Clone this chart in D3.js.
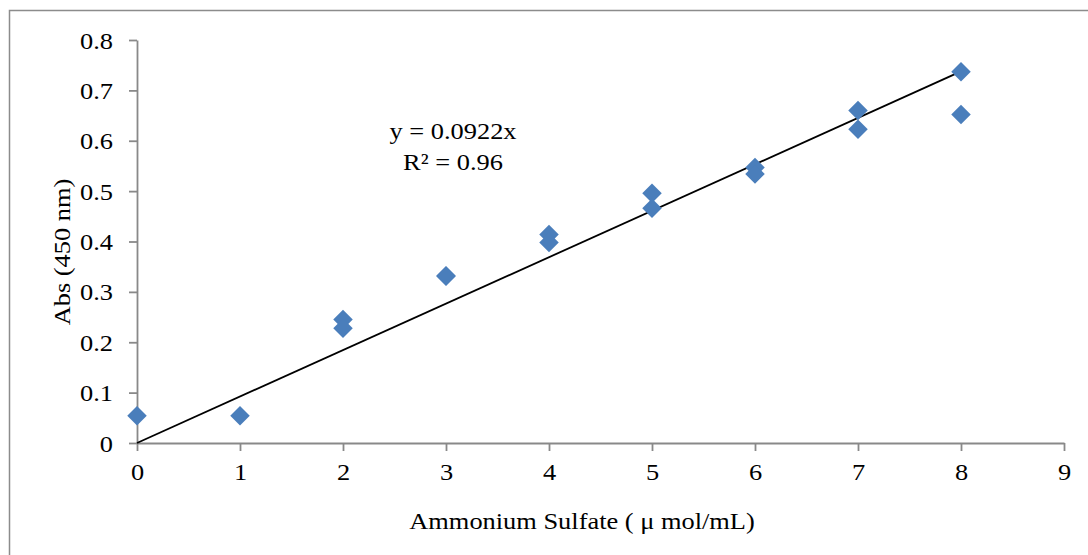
<!DOCTYPE html>
<html>
<head>
<meta charset="utf-8">
<script src="https://cdn.jsdelivr.net/npm/d3@7"></script>
<style>
  body { margin: 0; background: #fff; }
  svg { display: block; }
</style>
</head>
<body>
<div class="absChart"></div>
<script>
// concentration (x) and absorbance readings (y), two replicates per level
const concentrations = [0, 1, 2, 2, 3, 3, 4, 4, 5, 5, 6, 6, 7, 7, 8, 8];
const absorbance = [0.054, 0.054, 0.245, 0.228, 0.332, 0.331, 0.414, 0.398, 0.496, 0.466, 0.547, 0.534, 0.66, 0.623, 0.737, 0.652];
const xTicks = [0, 1, 2, 3, 4, 5, 6, 7, 8, 9];
const yTicks = [0, 0.1, 0.2, 0.3, 0.4, 0.5, 0.6, 0.7, 0.8];
const slope = 0.0922;
const trendRange = [0, 8];
const equationLines = ['y = 0.0922x', 'R\u00b2 = 0.96'];
const xTitle = 'Ammonium Sulfate ( \u03bc mol/mL)';
const yTitle = 'Abs (450 nm)';

function absChart() {
    const width = 1088, height = 555;
    const margin = {top: 40, right: 24, bottom: 112, left: 137};
    const font = "'Liberation Serif', 'Times New Roman', serif";
    const fontSize = '24px';
    const stretch = 1.1; // text in the picture is a bit wide

    const svg = d3.select('.absChart')
        .append('svg')
        .attr('width', width)
        .attr('height', height)
        .style('font-family', font);

    // chart frame, runs past the right and bottom edge
    svg.append('rect')
        .attr('x', 9.5).attr('y', 10.5)
        .attr('width', 1200).attr('height', 700)
        .attr('fill', 'none')
        .attr('stroke', '#8c8c8c')
        .attr('stroke-width', 1.5);

    const scaleX = d3.scaleLinear()
        .domain([0, 9])
        .range([margin.left, width - margin.right]);

    const scaleY = d3.scaleLinear()
        .domain([0, 0.8])
        .range([height - margin.bottom, margin.top]);

    const axisColor = '#898989';

    const gy = svg.append('g')
        .attr('transform', `translate(${margin.left}, 0)`)
        .call(d3.axisLeft(scaleY).tickValues(yTicks).tickSizeInner(8).tickSizeOuter(0)
            .tickFormat(d => d === 0 ? '0' : d3.format('.1f')(d)));

    const gx = svg.append('g')
        .attr('transform', `translate(0, ${height - margin.bottom})`)
        .call(d3.axisBottom(scaleX).tickValues(xTicks).tickSizeInner(8).tickSizeOuter(0)
            .tickFormat(d3.format('d')));

    [gx, gy].forEach(g => {
        g.select('.domain').attr('stroke', axisColor).attr('stroke-width', 1.8);
        g.selectAll('.tick line').attr('stroke', axisColor).attr('stroke-width', 1.8);
        g.selectAll('.tick text')
            .attr('fill', '#000')
            .style('font-size', fontSize)
            .style('font-family', font);
    });

    gy.selectAll('.tick text')
        .attr('x', null).attr('dy', null)
        .attr('text-anchor', 'end')
        .attr('transform', `translate(-24, 8) scale(${stretch}, 1)`);

    gx.selectAll('.tick text')
        .attr('y', null).attr('dy', null)
        .attr('text-anchor', 'middle')
        .attr('transform', `translate(0, 37) scale(${stretch}, 1)`);

    // trend line
    svg.append('line')
        .attr('x1', scaleX(trendRange[0]))
        .attr('y1', scaleY(slope * trendRange[0]))
        .attr('x2', scaleX(trendRange[1]))
        .attr('y2', scaleY(slope * trendRange[1]))
        .attr('stroke', '#000')
        .attr('stroke-width', 1.8);

    // diamonds
    const points = concentrations.map((c, i) => ({x: c, y: absorbance[i]}));
    const diamond = d3.symbol().type(d3.symbolSquare).size(190);
    svg.append('g')
        .selectAll('path')
        .data(points)
        .join('path')
        .attr('d', diamond)
        .attr('transform', d => `translate(${scaleX(d.x)}, ${scaleY(d.y)}) rotate(45)`)
        .attr('fill', '#4a7ebb');

    // regression label
    svg.append('g')
        .selectAll('text')
        .data(equationLines)
        .join('text')
        .attr('text-anchor', 'middle')
        .attr('transform', (d, i) => `translate(453, ${139 + i * 31}) scale(${stretch}, 1)`)
        .style('font-size', fontSize)
        .text(d => d);

    svg.append('text')
        .attr('text-anchor', 'middle')
        .attr('transform', `translate(582, 529) scale(${stretch}, 1)`)
        .style('font-size', fontSize)
        .text(xTitle);

    svg.append('text')
        .attr('text-anchor', 'middle')
        .attr('transform', `translate(70, 252) rotate(-90) scale(${stretch}, 1)`)
        .style('font-size', fontSize)
        .text(yTitle);
}

absChart();
</script>
</body>
</html>
